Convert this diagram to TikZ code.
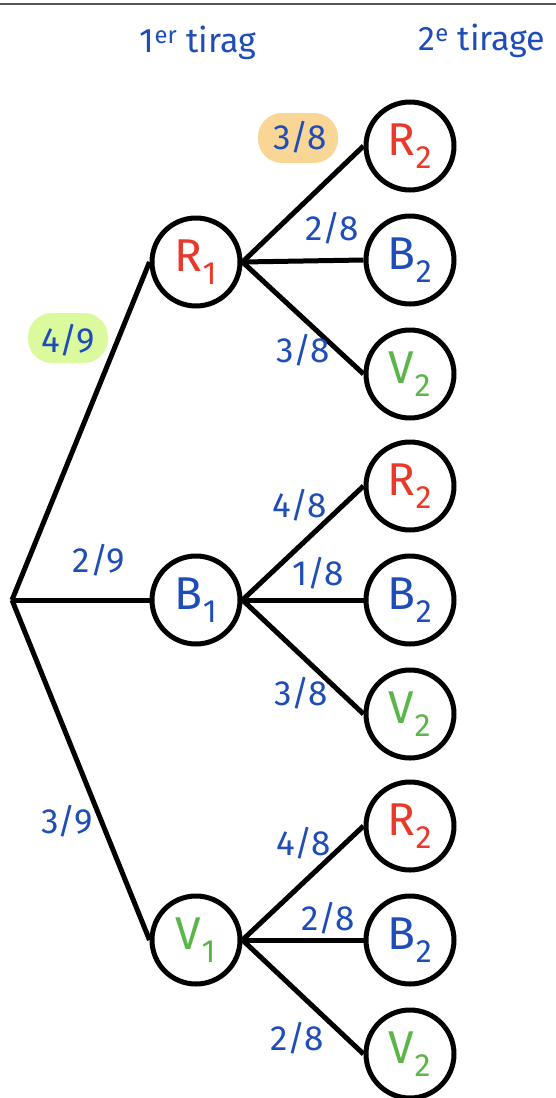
\documentclass[tikz,border=0pt]{standalone}
\usepackage{fontspec}
\setmainfont{Fira Sans}
\definecolor{hblue}{HTML}{1F4DB8}
\definecolor{hred}{HTML}{E8392B}
\definecolor{hgreen}{HTML}{5BB548}
\definecolor{hlorange}{HTML}{F9D596}
\definecolor{hlgreen}{HTML}{DBFA9E}
\definecolor{topline}{HTML}{555555}
\begin{document}
\begin{tikzpicture}[x=1pt,y=-1pt,
  st/.style={circle,draw=black,line width=5pt,minimum size=88pt,inner sep=0pt,
    font=\fontsize{46}{46}\selectfont},
  br/.style={line width=5pt},
  lab/.style={text=hblue,font=\fontsize{35}{35}\selectfont,inner sep=0pt},
  hl/.style={rounded corners=24pt,minimum width=80pt,minimum height=50pt,inner sep=0pt},
  hdr/.style={text=hblue,font=\fontsize{34}{34}\selectfont,inner sep=0pt}]
\useasboundingbox (0,0) rectangle (556,1098);
\draw[topline,line width=2pt] (0,4) -- (556,4);
% headers
\node[hdr] (h1) at (198,43) {1\textsuperscript{er} tirag};
\node[hdr] (h2) at (482,41) {2\textsuperscript{e} tirage};
% root
\coordinate (O) at (12,600);
% level 1
\node[st,text=hred] (R1) at (196,262) {R\textsubscript{1}};
\node[st,text=hblue] (B1) at (196,600) {B\textsubscript{1}};
\node[st,text=hgreen] (V1) at (196,940) {V\textsubscript{1}};
% level 2
\node[st,text=hred] (R1R) at (410,146) {R\textsubscript{2}};
\node[st,text=hblue] (R1B) at (410,260) {B\textsubscript{2}};
\node[st,text=hgreen] (R1V) at (410,374) {V\textsubscript{2}};
\node[st,text=hred] (B1R) at (410,486) {R\textsubscript{2}};
\node[st,text=hblue] (B1B) at (410,600) {B\textsubscript{2}};
\node[st,text=hgreen] (B1V) at (410,714) {V\textsubscript{2}};
\node[st,text=hred] (V1R) at (410,826) {R\textsubscript{2}};
\node[st,text=hblue] (V1B) at (410,940) {B\textsubscript{2}};
\node[st,text=hgreen] (V1V) at (410,1054) {V\textsubscript{2}};
% branches
\draw[br] (O) -- (R1.west);
\draw[br] (O) -- (B1.west);
\draw[br] (O) -- (V1.west);
\foreach \p in {R1,B1,V1}{
  \draw[br] (\p.east) -- (\p R.west);
  \draw[br] (\p.east) -- (\p B.west);
  \draw[br] (\p.east) -- (\p V.west);
}
% highlights
\node[hl,fill=hlorange] (hlo) at (298,138) {};
\node[hl,fill=hlgreen] (hlg) at (68,338) {};
% labels
\node[lab] (l1) at (68,340) {4/9};
\node[lab] (l2) at (99,560) {2/9};
\node[lab] (l3) at (67,821) {3/9};
\node[lab] (a1) at (300,137) {3/8};
\node[lab] (a2) at (332,228) {2/8};
\node[lab] (a3) at (303,350) {3/8};
\node[lab] (b1) at (300,505) {4/8};
\node[lab] (b2) at (318,573) {1/8};
\node[lab] (b3) at (301,693) {3/8};
\node[lab] (c1) at (304,843) {4/8};
\node[lab] (c2) at (328,918) {2/8};
\node[lab] (c3) at (297,1038) {2/8};
\end{tikzpicture}
\end{document}
